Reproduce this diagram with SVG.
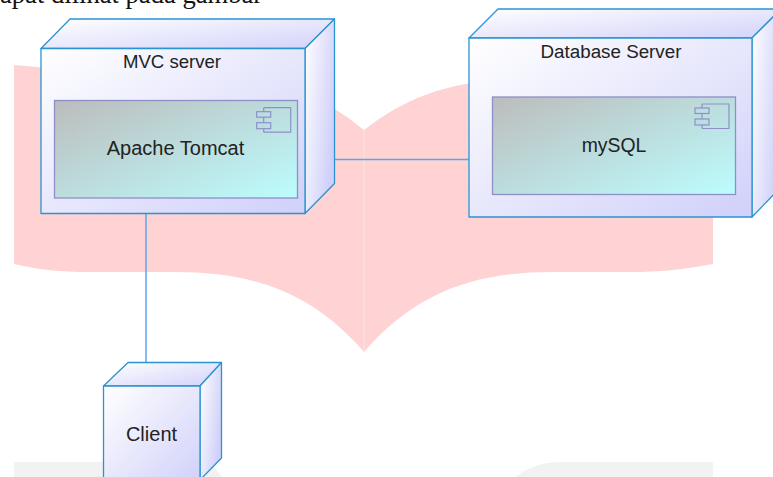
<svg xmlns="http://www.w3.org/2000/svg" width="773" height="477" viewBox="0 0 773 477">
<style>
text{font-family:"Liberation Sans",Arial,sans-serif;fill:#222;text-anchor:middle}
.e{stroke:#2a94d2;stroke-width:1.3;stroke-linejoin:round}
.c{stroke:#8f8fc8;stroke-width:1.3}
.k{fill:none;stroke:#8f8fc8;stroke-width:1.2}
.kf{fill:#bcdde4;stroke:#8f8fc8;stroke-width:1.2}
.l{stroke:#5aa6ee;stroke-width:1.5;fill:none}
</style>
<defs>
<linearGradient id="f" x1="0" y1="0" x2="1" y2="1"><stop offset="0" stop-color="#fff"/><stop offset="1" stop-color="#d0d0fa"/></linearGradient>
<linearGradient id="t" x1="0" y1="0" x2="1" y2="1"><stop offset="0" stop-color="#fff"/><stop offset="1" stop-color="#d2d2fa"/></linearGradient>
<linearGradient id="s" x1="0" y1="0" x2="1" y2="0.5"><stop offset="0" stop-color="#fff"/><stop offset="1" stop-color="#d0d0fa"/></linearGradient>
<linearGradient id="g" x1="0" y1="0" x2="1" y2="1"><stop offset="0" stop-color="#bcbcbc"/><stop offset="1" stop-color="#bcfdfe"/></linearGradient>
<symbol id="ci" overflow="visible">
<path class="k" d="M7 0H34V24.500H7"/><path class="k" d="M7 0V4M7 9.500V15M7 21V24.500"/>
<rect class="kf" x="0" y="4" width="14" height="5.500"/><rect class="kf" x="0" y="15" width="14" height="6"/>
</symbol>
</defs>
<rect width="773" height="477" fill="#fff"/>
<g id="background">
<path d="M14 65 C90 72 150 78 210 78 C280 78 325 98 364 130 C405 98 450 80 520 79 C590 78 660 72 713 65 V264 C680 270 660 272 630 272 L553 272 C478 272 418 290 364 352 C310 290 250 272 175 272 L90 272 C60 272 40 270 14 264Z" fill="#ffd2d3"/>
<path d="M364 130V352" stroke="#ffe2e2" stroke-width="1"/>
<path d="M14 462H210L222 477H14ZM515 477C530 466 545 462 560 462H713V477Z" fill="#f2f2f2"/>
</g>
<text x="0" y="3" style="font-family:'Liberation Serif',serif;font-size:26.600px;text-anchor:start;fill:#111">apat dilihat pada gambar</text>
<g id="connectors">
<path class="l" d="M334 159.500H469"/>
<path class="l" d="M146 214V363"/>
</g>
<g id="mvc-server">
<path class="e" fill="url(#t)" d="M41 48.500L70 19H334.500L305 48.500Z"/>
<path class="e" fill="url(#s)" d="M305 48.500L334.500 19V183.500L305 213.500Z"/>
<rect class="e" x="41" y="48.500" width="264" height="165" fill="url(#f)"/>
<text x="172" y="68" style="font-size:18.600px">MVC server</text>
<g id="apache-tomcat">
<rect class="c" x="54.500" y="100.500" width="243" height="97.500" fill="url(#g)"/>
<use href="#ci" x="256.700" y="107.700"/>
<text x="175.500" y="155" style="font-size:20px">Apache Tomcat</text>
</g>
</g>
<g id="database-server">
<path class="e" fill="url(#t)" d="M469 38L498 9H781L752 38Z"/>
<path class="e" fill="url(#s)" d="M752 38L781 9V187L752 217Z"/>
<rect class="e" x="469" y="38" width="283" height="179" fill="url(#f)"/>
<text x="611" y="58" style="font-size:18.800px">Database Server</text>
<g id="mysql">
<rect class="c" x="492.500" y="97" width="243" height="97.500" fill="url(#g)"/>
<use href="#ci" x="695" y="104"/>
<text x="614" y="151.500" style="font-size:19.400px">mySQL</text>
</g>
</g>
<g id="client">
<path class="e" fill="url(#t)" d="M103.500 386L128 362.500H221.500L200 386Z"/>
<path class="e" fill="url(#s)" d="M200 386L221.500 362.500V458L200 480Z"/>
<rect class="e" x="103.500" y="386" width="96.500" height="100" fill="url(#f)"/>
<text x="151.500" y="441" style="font-size:20px">Client</text>
</g>
</svg>
